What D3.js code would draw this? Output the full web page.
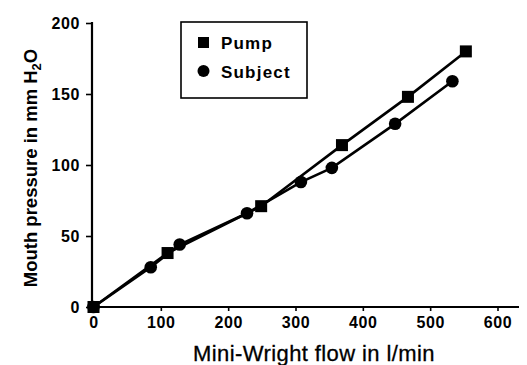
<!DOCTYPE html>
<html>
<head>
<meta charset="utf-8">
<script src="https://cdn.jsdelivr.net/npm/d3@7"></script>
<style>
  body { margin: 0; background: #fff; }
  text { font-family: "Liberation Sans", Arial, sans-serif; fill: #000; }
</style>
</head>
<body>
<svg id="chart" width="527" height="365"></svg>
<script>
// data
var pumpFlow = [0, 110, 249, 369, 467, 553];
var pumpPressure = [0, 38, 71, 114, 148, 180];
var subjectFlow = [0, 85, 128, 228, 308, 354, 448, 533];
var subjectPressure = [0, 28, 44, 66, 88, 98, 129, 159];
var xTicks = [0, 100, 200, 300, 400, 500, 600];
var yTicks = [0, 50, 100, 150, 200];

var svg = d3.select("#chart");

var x = d3.scaleLinear().domain([0, 600]).range([93.5, 497.5]);
var y = d3.scaleLinear().domain([0, 200]).range([307, 23]);

// axes
var xAxis = svg.append("g")
  .attr("transform", "translate(0,307)")
  .call(d3.axisBottom(x).tickValues(xTicks).tickSize(4).tickPadding(6));
xAxis.select(".domain").remove();
xAxis.append("line")
  .attr("x1", 91).attr("x2", 519)
  .attr("stroke", "#000").attr("stroke-width", 2.2);

var yAxis = svg.append("g")
  .attr("transform", "translate(92,0)")
  .call(d3.axisLeft(y).tickValues(yTicks).tickSize(6).tickPadding(6));
yAxis.select(".domain").remove();
yAxis.append("line")
  .attr("y1", 22).attr("y2", 308)
  .attr("stroke", "#000").attr("stroke-width", 2.2);

svg.selectAll(".tick line").attr("stroke", "#000").attr("stroke-width", 1.6);
svg.selectAll(".tick text")
  .style("font-family", "'Liberation Sans', Arial, sans-serif")
  .style("font-size", "16px")
  .style("font-weight", "bold")
  .style("letter-spacing", "0.6px")
  .attr("fill", "#000");

// axis titles
svg.append("text")
  .attr("x", 314).attr("y", 361)
  .attr("text-anchor", "middle")
  .style("font-size", "22px")
  .style("letter-spacing", "0.4px")
  .style("stroke", "#000").style("stroke-width", 0.3)
  .text("Mini-Wright flow in l/min");

var yt = svg.append("text")
  .attr("transform", "translate(37,168) rotate(-90)")
  .attr("text-anchor", "middle")
  .style("font-size", "18.5px")
  .style("font-weight", "bold");
yt.append("tspan").text("Mouth pressure in mm H");
yt.append("tspan").attr("dy", 4).style("font-size", "13px").text("2");
yt.append("tspan").attr("dy", -4).text("O");

// series
var pump = pumpFlow.map(function (f, i) { return [f, pumpPressure[i]]; });
var subject = subjectFlow.map(function (f, i) { return [f, subjectPressure[i]]; });

var line = d3.line()
  .x(function (d) { return x(d[0]); })
  .y(function (d) { return y(d[1]); });

[pump, subject].forEach(function (s) {
  svg.append("path")
    .datum(s)
    .attr("d", line)
    .attr("fill", "none")
    .attr("stroke", "#000")
    .attr("stroke-width", 2.6);
});

svg.selectAll(".sq")
  .data(pump)
  .join("rect")
  .attr("class", "sq")
  .attr("x", function (d) { return x(d[0]) - 6; })
  .attr("y", function (d) { return y(d[1]) - 6; })
  .attr("width", 12).attr("height", 12)
  .attr("fill", "#000");

svg.selectAll(".dot")
  .data(subject)
  .join("circle")
  .attr("class", "dot")
  .attr("cx", function (d) { return x(d[0]); })
  .attr("cy", function (d) { return y(d[1]); })
  .attr("r", 6.3)
  .attr("fill", "#000");

// legend
var lg = svg.append("g");
lg.append("rect")
  .attr("x", 181).attr("y", 22).attr("width", 126).attr("height", 76)
  .attr("fill", "none").attr("stroke", "#000").attr("stroke-width", 1.6);
lg.append("rect")
  .attr("x", 198).attr("y", 37).attr("width", 11).attr("height", 11)
  .attr("fill", "#000");
lg.append("circle").attr("cx", 203.5).attr("cy", 71).attr("r", 6).attr("fill", "#000");
lg.append("text").attr("x", 221).attr("y", 49)
  .style("font-size", "17px").style("font-weight", "bold")
  .style("letter-spacing", "1.2px").text("Pump");
lg.append("text").attr("x", 221).attr("y", 78)
  .style("font-size", "17px").style("font-weight", "bold")
  .style("letter-spacing", "1.2px").text("Subject");
</script>
</body>
</html>
